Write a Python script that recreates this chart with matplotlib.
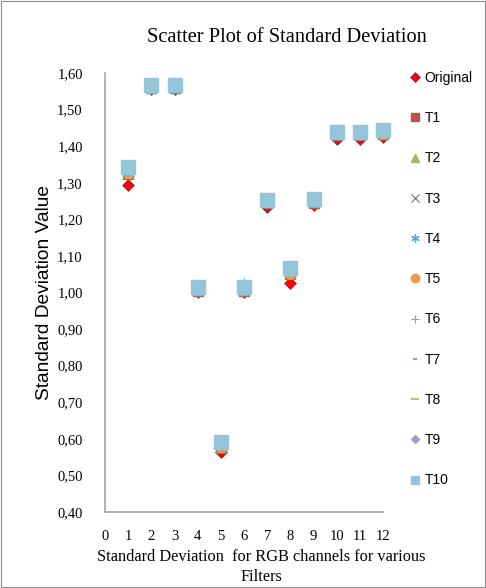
import matplotlib.pyplot as plt
from matplotlib.lines import Line2D
from matplotlib.ticker import FuncFormatter

x = list(range(1, 13))
original = [1.295, 1.555, 1.555, 1.000, 0.565, 1.000, 1.235, 1.025, 1.240, 1.420, 1.420, 1.425]
t1 = [1.325, 1.560, 1.560, 1.005, 0.575, 1.005, 1.245, 1.050, 1.245, 1.430, 1.430, 1.432]
t2 = [1.328, 1.560, 1.562, 1.006, 0.578, 1.006, 1.247, 1.052, 1.248, 1.432, 1.432, 1.434]
t3 = [1.328, 1.561, 1.562, 1.006, 0.578, 1.006, 1.247, 1.053, 1.248, 1.432, 1.432, 1.434]
t4 = [1.330, 1.562, 1.563, 1.007, 0.580, 1.007, 1.248, 1.055, 1.249, 1.433, 1.433, 1.435]
t5 = [1.326, 1.572, 1.563, 1.006, 0.577, 1.006, 1.247, 1.051, 1.248, 1.432, 1.432, 1.434]
t6 = [1.331, 1.563, 1.572, 1.008, 0.581, 1.022, 1.249, 1.057, 1.250, 1.434, 1.434, 1.436]
t7 = [1.332, 1.563, 1.564, 1.008, 0.582, 1.008, 1.250, 1.058, 1.250, 1.435, 1.435, 1.437]
t8 = [1.333, 1.563, 1.564, 1.008, 0.582, 1.008, 1.250, 1.058, 1.251, 1.435, 1.435, 1.437]
t9 = [1.334, 1.564, 1.565, 1.009, 0.583, 1.009, 1.251, 1.059, 1.251, 1.436, 1.436, 1.438]
t10 = [1.343, 1.566, 1.567, 1.015, 0.590, 1.015, 1.253, 1.067, 1.255, 1.440, 1.440, 1.443]

# (name, values, style, legend marker size)
series = [
    ("Original", original, dict(marker="D", color="#FF0000", mec="#1F3A93", mew=0.4, ms=6), 5),
    ("T1", t1, dict(marker="s", color="#C0504D", mec="#C0504D", ms=7), 6),
    ("T2", t2, dict(marker="^", color="#9BBB59", mec="#9BBB59", ms=7), 6),
    ("T3", t3, dict(marker="x", color="#8064A2", mew=0.8, ms=7), 6),
    ("T4", t4, dict(marker=(6, 2, 0), color="#4BACC6", mew=0.9, ms=7), 6),
    ("T5", t5, dict(marker="o", color="#F79646", mec="#F79646", ms=7), 6),
    ("T6", t6, dict(marker="+", color="#7F9ED8", mew=0.8, ms=8), 6),
    ("T7", t7, dict(marker="_", color="#D0706D", mew=1.2, ms=4), 3),
    ("T8", t8, dict(marker="_", color="#9BBB59", mew=1.2, ms=8), 6),
    ("T9", t9, dict(marker="D", color="#A89BC6", mec="#A89BC6", ms=5), 4.5),
    ("T10", t10, dict(marker="s", color="#93C4D8", mec="#93C4D8", ms=9.5), 6),
]

fig = plt.figure(figsize=(4.86, 5.88), dpi=100)
fig.patches.append(plt.Rectangle((0.002, 0.002), 0.996, 0.996, transform=fig.transFigure,
                                 fill=False, edgecolor="#8C8C8C", lw=0.8))
ax = fig.add_axes([105 / 486, 1 - 512 / 588, (383 - 105) / 486, (512 - 73) / 588])

handles = []
for name, vals, st, lms in series:
    ax.plot(x, vals, linestyle="none", label=name, clip_on=False, zorder=3, **st)
    hst = dict(st)
    hst["ms"] = lms
    handles.append(Line2D([], [], linestyle="none", label=name, **hst))

ax.set_xlim(0, 12)
ax.set_ylim(0.40, 1.60)
ax.set_xticks(range(0, 13))
ax.set_yticks([0.4 + 0.1 * i for i in range(13)])
ax.yaxis.set_major_formatter(FuncFormatter(lambda v, p: f"{v:.2f}".replace(".", ",")))
ax.tick_params(length=0, labelsize=10.5)
ax.tick_params(axis="x", pad=13)
ax.tick_params(axis="y", pad=16)
for lbl in ax.get_xticklabels() + ax.get_yticklabels():
    lbl.set_fontfamily("Liberation Serif")
for s in ["top", "right"]:
    ax.spines[s].set_visible(False)
for s in ["left", "bottom"]:
    ax.spines[s].set_color("#A6A6A6")
    ax.spines[s].set_linewidth(1.2)

fig.text(287 / 486, 1 - 37 / 588, "Scatter Plot of Standard Deviation", ha="center", va="center",
         fontsize=14.7, family="Liberation Serif")
fig.text(45 / 486, 1 - 292 / 588, "Standard Deviation Value", rotation=90, ha="center", va="center",
         fontsize=13.8, family="Liberation Sans")
fig.text(261 / 486, 1 - 567 / 588, "Standard Deviation  for RGB channels for various\nFilters",
         ha="center", va="center", fontsize=11.8, family="Liberation Serif", linespacing=1.3)

leg = fig.legend(handles=handles, loc="upper left", bbox_to_anchor=(403 / 486, 1 - 64 / 588),
                 frameon=False, labelspacing=1.89, handlelength=0.7, handletextpad=0.35,
                 borderpad=0, prop={"family": "Liberation Sans", "size": 10})

fig.savefig("out.png", dpi=100)
